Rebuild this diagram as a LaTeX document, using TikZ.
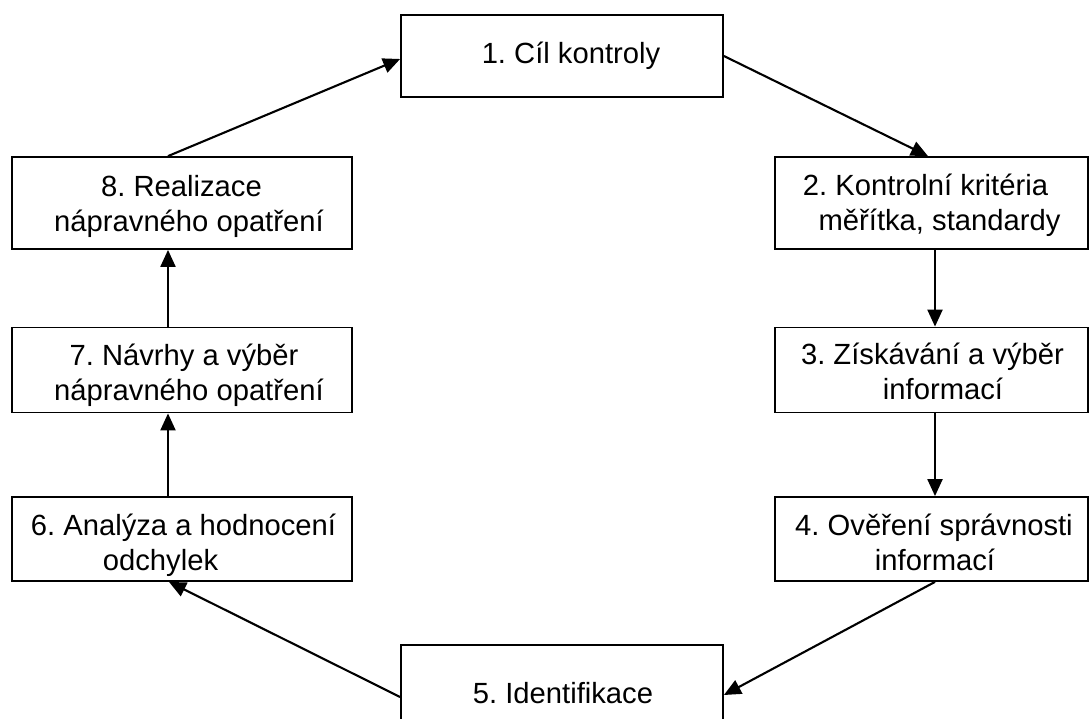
\documentclass[tikz,border=0pt]{standalone}
\usepackage{fontspec}
\setmainfont{Liberation Sans}
\usetikzlibrary{arrows.meta}
\frenchspacing
\begin{document}
\begin{tikzpicture}[x=1pt,y=-1pt,
  box/.style={draw, line width=1.8pt, rectangle, inner sep=0pt},
  txt/.style={anchor=base, inner sep=0pt, font=\fontsize{29.2}{35}\selectfont\frenchspacing},
  arr/.style={line width=2.1pt, -{Triangle[length=17pt,width=15pt]}}]
\useasboundingbox (0,0) rectangle (1090,718);
\clip (0,0) rectangle (1090,718);
% boxes
\node[box, minimum width=322pt, minimum height=82pt] (b1) at (562,56) {};
\node[box, minimum width=313pt, minimum height=92pt] (b2) at (931.5,203) {};
\node[box, minimum width=313pt, minimum height=85pt] (b3) at (931.5,370) {};
\node[box, minimum width=313pt, minimum height=84pt] (b4) at (931.5,539) {};
\node[box, minimum width=322pt, minimum height=115pt] (b5) at (562,702.5) {};
\node[box, minimum width=340pt, minimum height=84pt] (b6) at (182,539) {};
\node[box, minimum width=340pt, minimum height=85pt] (b7) at (182,370) {};
\node[box, minimum width=340pt, minimum height=92pt] (b8) at (182,203) {};
% texts
\node[txt] (t1) at (571,63) {1. Cíl kontroly};
\node[txt] (t2a) at (925.5,195) {2. Kontrolní kritéria};
\node[txt] (t2b) at (939.5,230) {měřítka, standardy};
\node[txt] (t3a) at (932.5,364) {3. Získávání a výběr};
\node[txt] (t3b) at (943,399) {informací};
\node[txt] (t4a) at (934,535) {4. Ověření správnosti};
\node[txt] (t4b) at (935,570) {informací};
\node[txt] (t5) at (563,703) {5. Identifikace};
\node[txt] (t6a) at (183.5,535) {6. Analýza a hodnocení};
\node[txt] (t6b) at (160.5,570) {odchylek};
\node[txt] (t7a) at (184,365) {7. Návrhy a výběr};
\node[txt] (t7b) at (189,400) {nápravného opatření};
\node[txt] (t8a) at (181.5,196) {8. Realizace};
\node[txt] (t8b) at (189,231) {nápravného opatření};
% connectors
\draw[arr] (b1.east) -- ([xshift=-3.5pt]b2.north);
\draw[arr] ([xshift=3.5pt]b2.south) -- ([xshift=3.5pt]b3.north);
\draw[arr] ([xshift=3.5pt]b3.south) -- ([xshift=3.5pt]b4.north);
\draw[arr] ([xshift=3.5pt]b4.south) -- ([yshift=7.5pt]b5.east);
\draw[arr] ([yshift=5.5pt]b5.west) -- ([xshift=-13pt]b6.south);
\draw[arr] ([xshift=-14pt]b6.north) -- ([xshift=-14pt]b7.south);
\draw[arr] ([xshift=-14pt]b7.north) -- ([xshift=-14pt]b8.south);
\draw[arr] ([xshift=-14pt]b8.north) -- ([yshift=-3pt]b1.west);
\end{tikzpicture}
\end{document}
